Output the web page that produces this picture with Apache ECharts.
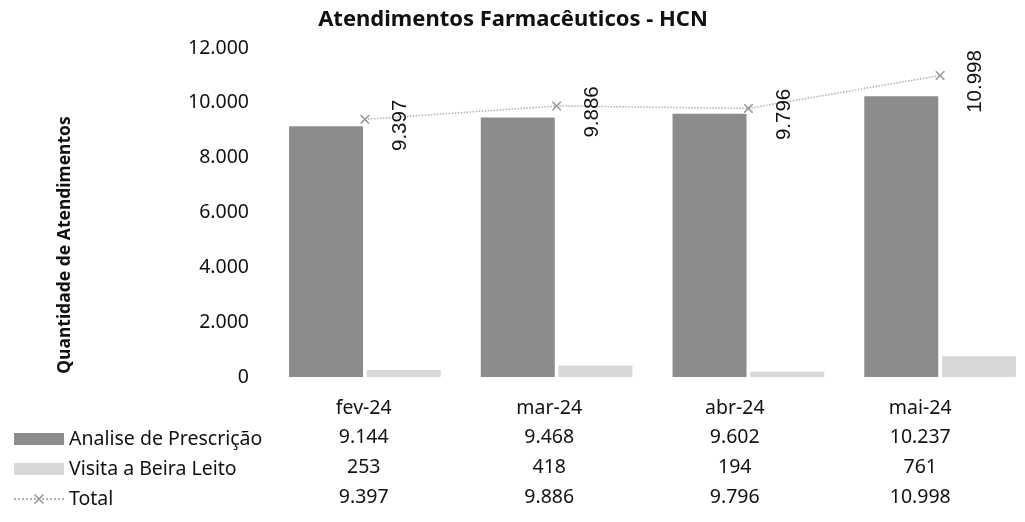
<!DOCTYPE html>
<html>
<head>
<meta charset="utf-8">
<script src="https://cdn.jsdelivr.net/npm/echarts@6/dist/echarts.min.js"></script>
<style>
html,body{margin:0;padding:0;background:#fff;}
#c{width:1025px;height:522px;}
</style>
</head>
<body>
<div id="c"></div>
<script>
const categories = ['fev-24', 'mar-24', 'abr-24', 'mai-24'];
const analisePrescricao = [9144, 9468, 9602, 10237];
const visitaBeiraLeito = [253, 418, 194, 761];
const total = [9397, 9886, 9796, 10998];
const yTicks = { min: 0, max: 12000, interval: 2000 };

const fmt = v => String(v).replace(/\B(?=(\d{3})+(?!\d))/g, '.');
const FONT = '"Noto Sans", sans-serif';
const TXT = '#111';

const chart = echarts.init(document.getElementById('c'), null, { renderer: 'canvas' });
const xMark = 'path://M0,0 L1.2,0 L5,3.8 L8.8,0 L10,0 L10,1.2 L6.2,5 L10,8.8 L10,10 L8.8,10 L5,6.2 L1.2,10 L0,10 L0,8.8 L3.8,5 L0,1.2 Z';

const tableRows = [categories, analisePrescricao.map(fmt), visitaBeiraLeito.map(fmt), total.map(fmt)];
const rowOffsets = [0, 29, 59, 89];

const tableAxes = tableRows.map((row, i) => ({
  type: 'category', gridIndex: 1, data: row, position: 'bottom', offset: rowOffsets[i],
  axisLine: { show: false }, axisTick: { show: false },
  axisLabel: { margin: 10, verticalAlign: 'middle', fontFamily: FONT, fontSize: 19.5, color: TXT, interval: 0 }
}));

chart.setOption({
  animation: false,
  backgroundColor: '#fff',
  title: {
    text: 'Atendimentos Farmacêuticos - HCN', left: 508, textAlign: 'center', top: 4,
    textStyle: { fontFamily: FONT, fontWeight: 'bold', fontSize: 22, color: TXT }
  },
  graphic: [{
    type: 'text', x: 65, y: 245, rotation: Math.PI / 2,
    style: { text: 'Quantidade de Atendimentos', font: 'bold 17.5px "Noto Sans", sans-serif', fill: TXT, align: 'center', verticalAlign: 'middle' }
  }],
  legend: {
    orient: 'vertical', left: 8, top: 424, itemWidth: 50, itemHeight: 12, itemGap: 10,
    textStyle: { fontFamily: FONT, fontSize: 19.5, color: TXT, lineHeight: 20 },
    data: [
      { name: 'Analise de Prescrição', icon: 'rect' },
      { name: 'Visita a Beira Leito', icon: 'rect' },
      { name: 'Total' }
    ]
  },
  grid: [
    { left: 269, width: 767, top: 48, bottom: 145, outerBoundsMode: 'none', containLabel: false },
    { left: 271, right: 12, top: 397, height: 1, outerBoundsMode: 'none', containLabel: false }
  ],
  xAxis: [
    { type: 'category', gridIndex: 0, data: categories, axisLine: { show: false }, axisTick: { show: false }, axisLabel: { show: false } }
  ].concat(tableAxes),
  yAxis: [
    {
      type: 'value', gridIndex: 0, min: yTicks.min, max: yTicks.max, interval: yTicks.interval,
      splitLine: { show: false }, axisLine: { show: false }, axisTick: { show: false },
      axisLabel: { margin: 20, fontFamily: FONT, fontSize: 19.5, color: TXT, formatter: v => fmt(v) }
    },
    { type: 'value', gridIndex: 1, show: false }
  ],
  series: [
    {
      name: 'Analise de Prescrição', type: 'bar', xAxisIndex: 0, yAxisIndex: 0, data: analisePrescricao,
      barWidth: 74, barGap: '5%', itemStyle: { color: '#8c8c8c' }
    },
    {
      name: 'Visita a Beira Leito', type: 'bar', xAxisIndex: 0, yAxisIndex: 0, data: visitaBeiraLeito,
      barWidth: 74, barGap: '5%', itemStyle: { color: '#d8d8d8' }
    },
    {
      name: 'Total', type: 'line', xAxisIndex: 0, yAxisIndex: 0, data: total,
      symbol: xMark, symbolSize: 9,
      lineStyle: { color: '#b0b0b0', width: 1.5, type: 'dotted' },
      itemStyle: { color: '#999' },
      label: {
        show: true, position: 'right', distance: 26, rotate: 90, align: 'center', verticalAlign: 'middle',
        offset: [-6, 5], fontFamily: '"Liberation Sans", Arial, sans-serif', fontSize: 20.5, color: TXT,
        formatter: p => fmt(p.value)
      }
    }
  ]
});
</script>
</body>
</html>
